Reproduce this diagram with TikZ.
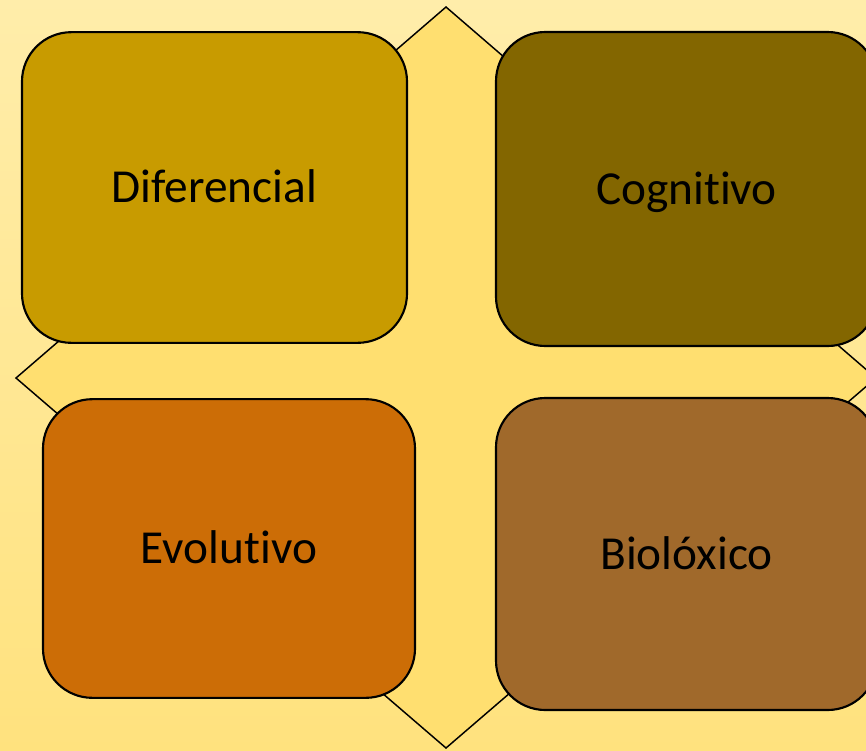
\documentclass[tikz,border=0pt]{standalone}
\usepackage{fontspec}
\setmainfont{Carlito}[Ligatures={NoCommon}]
\usepackage{xcolor}
\definecolor{bgtop}{RGB}{255,237,170}
\definecolor{bgbot}{RGB}{255,226,126}
\definecolor{diamondfill}{RGB}{255,223,112}
\definecolor{difcol}{RGB}{200,155,0}
\definecolor{cogcol}{RGB}{131,102,0}
\definecolor{evocol}{RGB}{204,109,6}
\definecolor{biocol}{RGB}{160,105,43}

\begin{document}
\begin{tikzpicture}[x=0.75pt, y=-0.75pt]
\tikzstyle{box} = [rectangle, draw, line width=1.6pt, rounded corners=37pt, inner sep=0pt, text centered, text height=22.9pt, text depth=0pt, font=\fontsize{35.5}{40}\selectfont]
\tikzstyle{frame} = [draw, line width=1.1pt, fill=diamondfill]

\useasboundingbox (0,0) rectangle (866,750);
\clip (0,0) rectangle (866,750);
\shade [top color=bgtop, bottom color=bgbot] (0,0) rectangle (866,750);

% diamond behind the boxes
\draw [frame] (446,7) -- (876,378) -- (446,748) -- (16,378) -- cycle;

\node [box, fill=difcol, minimum width=288.75pt, minimum height=233pt] (dif) at (214.5,187.5) {Diferencial};
\node [box, fill=cogcol, minimum width=285.75pt, minimum height=235.5pt] (cog) at (686.5,189) {Cognitivo};
\node [box, fill=evocol, minimum width=279pt, minimum height=224pt] (evo) at (229,548.5) {Evolutivo};
\node [box, fill=biocol, minimum width=285.75pt, minimum height=234pt] (bio) at (686.5,554) {Biolóxico};
\end{tikzpicture}
\end{document}
